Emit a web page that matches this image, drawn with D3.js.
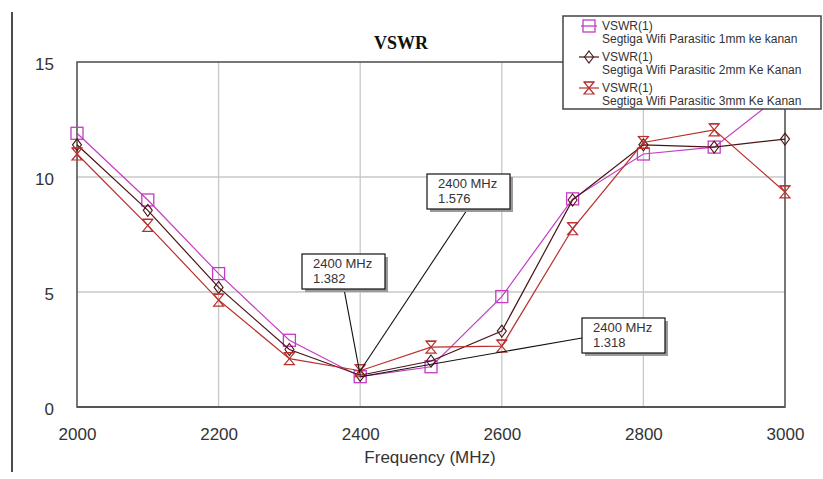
<!DOCTYPE html>
<html>
<head>
<meta charset="utf-8">
<script src="https://cdn.jsdelivr.net/npm/d3@7"></script>
<style>
  html, body { margin: 0; padding: 0; background: #fff; }
  svg { display: block; font-family: "Liberation Sans", Arial, sans-serif; }
</style>
</head>
<body>
<svg id="chart" width="823" height="479"></svg>
<script>
// ---- data ----
const frequencies = [2000, 2100, 2200, 2300, 2400, 2500, 2600, 2700, 2800, 2900, 3000];
const vswr1mm = [11.9, 9.0, 5.8, 2.9, 1.318, 1.75, 4.8, 9.05, 11.0, 11.3, 13.7];
const vswr2mm = [11.4, 8.55, 5.2, 2.5, 1.382, 2.0, 3.3, 9.0, 11.4, 11.3, 11.65];
const vswr3mm = [11.0, 7.9, 4.65, 2.1, 1.576, 2.6, 2.65, 7.75, 11.5, 12.05, 9.35];
const xTicks = [2000, 2200, 2400, 2600, 2800, 3000];
const yTicks = [0, 5, 10, 15];
const seriesNames = ["Segtiga Wifi Parasitic 1mm ke kanan", "Segtiga Wifi Parasitic 2mm Ke Kanan", "Segtiga Wifi Parasitic 3mm Ke Kanan"];
const markerFreqs = [2400, 2400, 2400];
const markerValues = [1.382, 1.576, 1.318];

// ---- layout / style ----
const svg = d3.select("#chart");
const L = 77, R = 785, T = 62, B = 407;
const x = d3.scaleLinear().domain([2000, 3000]).range([L, R]);
const y = d3.scaleLinear().domain([0, 15]).range([B, T]);
const colors = ["#c43cc4", "#4a1414", "#b8302c"];
const shapes = ["square", "diamond", "hourglass"];

// left border line of the image
svg.append("line").attr("x1", 12).attr("x2", 12).attr("y1", 12).attr("y2", 472)
  .attr("stroke", "#111").attr("stroke-width", 1.5);

// grid
svg.append("g").selectAll("line").data(xTicks.slice(1, -1)).join("line")
  .attr("x1", d => x(d)).attr("x2", d => x(d)).attr("y1", T).attr("y2", B)
  .attr("stroke", "#c8c8c8").attr("stroke-width", 1.3);
svg.append("g").selectAll("line").data(yTicks.slice(1, -1)).join("line")
  .attr("y1", d => y(d)).attr("y2", d => y(d)).attr("x1", L).attr("x2", R)
  .attr("stroke", "#c8c8c8").attr("stroke-width", 1.3);

// plot frame
svg.append("rect").attr("x", L).attr("y", T).attr("width", R - L).attr("height", B - T)
  .attr("fill", "none").attr("stroke", "#555").attr("stroke-width", 1.6);
svg.append("line").attr("x1", L).attr("x2", R).attr("y1", B).attr("y2", B)
  .attr("stroke", "#555").attr("stroke-width", 2.2);

// axes
const xAxis = svg.append("g").attr("transform", `translate(0,${B})`)
  .call(d3.axisBottom(x).tickValues(xTicks).tickSize(0).tickPadding(21).tickFormat(d3.format("d")));
xAxis.select(".domain").remove();
xAxis.selectAll("text").attr("font-size", 17).attr("fill", "#333")
  .style("font-family", "'Liberation Sans', Arial, sans-serif");

const yAxis = svg.append("g").attr("transform", `translate(${L},0)`)
  .call(d3.axisLeft(y).tickValues(yTicks).tickSize(0).tickPadding(23));
yAxis.select(".domain").remove();
yAxis.selectAll("text").attr("font-size", 17).attr("fill", "#333").attr("dy", "0.42em")
  .style("font-family", "'Liberation Sans', Arial, sans-serif");

svg.append("text").attr("x", 430).attr("y", 463).attr("text-anchor", "middle")
  .attr("font-size", 17).attr("fill", "#333").text("Frequency (MHz)");

svg.append("text").attr("x", 401).attr("y", 49).attr("text-anchor", "middle")
  .style("font-family", "'Liberation Serif', 'Times New Roman', serif")
  .attr("font-weight", "bold").attr("font-size", 18).attr("fill", "#111").text("VSWR");

// marker drawing
function drawMarker(g, shape, cx, cy, color, withBar) {
  const s = 6;
  if (shape === "square") {
    g.append("rect").attr("x", cx - s).attr("y", cy - s).attr("width", 2 * s).attr("height", 2 * s)
      .attr("fill", "none").attr("stroke", color).attr("stroke-width", 1.3);
    if (withBar) g.append("line").attr("x1", cx - s - 2).attr("x2", cx + s + 2).attr("y1", cy).attr("y2", cy)
      .attr("stroke", color).attr("stroke-width", 1.3);
  } else if (shape === "diamond") {
    g.append("path").attr("d", `M${cx},${cy - s}L${cx + 4.5},${cy}L${cx},${cy + s}L${cx - 4.5},${cy}Z`)
      .attr("fill", "none").attr("stroke", color).attr("stroke-width", 1.1);
    if (withBar) g.append("line").attr("x1", cx - s - 4).attr("x2", cx + s + 4).attr("y1", cy).attr("y2", cy)
      .attr("stroke", color).attr("stroke-width", 1.2);
  } else {
    g.append("path").attr("d", `M${cx - 5},${cy - s}L${cx + 5},${cy - s}L${cx - 5},${cy + s}L${cx + 5},${cy + s}Z`)
      .attr("fill", "none").attr("stroke", color).attr("stroke-width", 1.2);
    g.append("line").attr("x1", cx - 5).attr("x2", cx + 5).attr("y1", cy - s).attr("y2", cy - s)
      .attr("stroke", color).attr("stroke-width", 1.2);
    if (withBar) g.append("line").attr("x1", cx - s - 4).attr("x2", cx + s + 4).attr("y1", cy).attr("y2", cy)
      .attr("stroke", color).attr("stroke-width", 1.2);
  }
}

// series
const allSeries = [vswr1mm, vswr2mm, vswr3mm];
const line = d3.line().x(d => x(d[0])).y(d => y(d[1]));
allSeries.forEach((vals, i) => {
  const pts = frequencies.map((f, k) => [f, vals[k]]);
  svg.append("path").datum(pts).attr("d", line)
    .attr("fill", "none").attr("stroke", colors[i]).attr("stroke-width", 1.2);
  const g = svg.append("g");
  pts.forEach(p => drawMarker(g, shapes[i], x(p[0]), y(p[1]), colors[i], false));
});

// annotation boxes (marker readouts)
const boxPos = [[302, 254, 344, 289], [427, 174, 467, 210], [582, 318, 582, 338]];
markerValues.forEach((v, i) => {
  const [bx, by, lx, ly] = boxPos[i];
  const w = 83, h = 35;
  svg.append("line").attr("x1", lx).attr("y1", ly).attr("x2", x(markerFreqs[i])).attr("y2", y(v))
    .attr("stroke", "#111").attr("stroke-width", 1.1);
  svg.append("rect").attr("x", bx + 3).attr("y", by + 3).attr("width", w).attr("height", h).attr("fill", "#9a9a9a");
  svg.append("rect").attr("x", bx).attr("y", by).attr("width", w).attr("height", h)
    .attr("fill", "#fff").attr("stroke", "#111").attr("stroke-width", 1.2);
  svg.append("text").attr("x", bx + 11).attr("y", by + 14).attr("font-size", 13).attr("fill", "#333")
    .text(`${markerFreqs[i]} MHz`);
  svg.append("text").attr("x", bx + 11).attr("y", by + 29).attr("font-size", 13).attr("fill", "#333")
    .text(d3.format(".3f")(v));
});

// legend
const lg = svg.append("g");
lg.append("rect").attr("x", 563).attr("y", 16).attr("width", 258).attr("height", 93)
  .attr("fill", "#fff").attr("stroke", "#444").attr("stroke-width", 1.5);
seriesNames.forEach((name, i) => {
  const yy = 26 + i * 31;
  drawMarker(lg, shapes[i], 589, yy, colors[i], true);
  lg.append("text").attr("x", 602).attr("y", yy + 4).attr("font-size", 12).attr("fill", "#333").text("VSWR(1)");
  lg.append("text").attr("x", 602).attr("y", yy + 17).attr("font-size", 12).attr("fill", "#333").text(name);
});
</script>
</body>
</html>
